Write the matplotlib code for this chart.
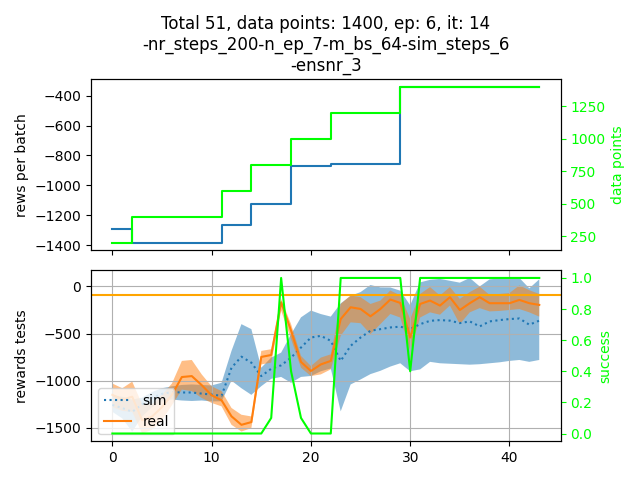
import matplotlib
matplotlib.use("Agg")
import matplotlib.pyplot as plt
import numpy as np

# top panel (per episode)
ep_x = [0, 2, 11, 14, 18, 22, 29, 43]
rews_per_batch = [-1290, -1383, -1266, -1128, -870, -856, -342, -342]
data_points = [200, 400, 600, 800, 1000, 1200, 1400, 1400]

# bottom panel (per iteration)
it_x = list(range(44))
sim_mean = [-1257, -1290, -1330, -1250, -1180, -1140, -1120, -1125, -1125, -1137,
            -1147, -1160, -862, -745, -809, -951, -873, -837, -755, -648,
            -542, -524, -577, -790, -630, -542, -470, -453, -435, -427,
            -453, -400, -365, -357, -363, -389, -371, -424, -371, -357,
            -346, -340, -406, -363]
sim_upper = [-1150, -1170, -1200, -1180, -1120, -1080, -1060, -1045, -1040, -1045,
             -1050, -1022, -684, -400, -453, -862, -755, -702, -506, -328,
             -256, -293, -320, -180, -100, -60, 15, -10, -11, -45,
             -200, 43, 70, 80, 60, 40, 90, 0, 75, 85,
             85, 90, -20, 75]
sim_lower = [-1330, -1400, -1540, -1380, -1280, -1220, -1200, -1210, -1215, -1210,
             -1220, -1218, -1000, -1080, -1150, -1058, -980, -960, -1022, -960,
             -950, -900, -870, -1325, -1040, -987, -930, -895, -850, -815,
             -900, -880, -800, -815, -820, -825, -830, -825, -815, -805,
             -790, -780, -800, -780]
real_mean = [-1150, -1200, -1170, -1420, -1380, -1280, -1150, -961, -951, -1047,
             -1155, -1208, -1378, -1468, -1439, -748, -727, -168, -470, -801,
             -897, -827, -790, -346, -221, -239, -317, -239, -139, -175,
             -542, -186, -150, -203, -114, -250, -178, -114, -178, -178,
             -178, -143, -178, -196]
real_upper = [-1030, -1080, -1010, -1250, -1250, -1150, -1030, -790, -780, -933,
              -1060, -1110, -1289, -1361, -1379, -684, -666, -132, -400, -737,
              -844, -755, -720, -186, -96, -114, -186, -150, -43, -96,
              -346, -80, -7, -96, -7, -132, -60, -3, -90, -80,
              -70, 11, -40, -80]
real_lower = [-1280, -1320, -1330, -1560, -1520, -1420, -1260, -1094, -1111, -1183,
              -1236, -1272, -1468, -1539, -1503, -827, -809, -256, -560, -862,
              -951, -933, -880, -524, -381, -390, -506, -400, -292, -330,
              -684, -330, -275, -300, -203, -400, -275, -230, -265, -260,
              -250, -240, -275, -320]
success = [0, 0, 0, 0, 0, 0, 0, 0, 0, 0,
           0, 0, 0, 0, 0, 0, 0.1, 1.0, 0.4, 0.1,
           0, 0, 0, 1.0, 1.0, 1.0, 1.0, 1.0, 1.0, 1.0,
           0.4, 1.0, 1.0, 1.0, 1.0, 1.0, 1.0, 1.0, 1.0, 1.0,
           1.0, 1.0, 1.0, 1.0]
threshold = -90

title = ("Total 51, data points: 1400, ep: 6, it: 14\n"
         "-nr_steps_200-n_ep_7-m_bs_64-sim_steps_6\n-ensnr_3")

fig, (ax1, ax2) = plt.subplots(2, 1, sharex=True, figsize=(6.4, 4.8), dpi=100)

ax1.plot(ep_x, rews_per_batch, drawstyle='steps-post', color='C0')
ax1.set_ylabel('rews per batch')
ax1.set_title(title)
ax1b = ax1.twinx()
ax1b.plot(ep_x, data_points, drawstyle='steps-post', color='lime')
ax1b.set_ylabel('data points', color='lime')
ax1b.tick_params(axis='y', colors='lime')

ax2.fill_between(it_x, sim_lower, sim_upper, facecolor='C0', alpha=0.5, linewidth=0)
ax2.plot(it_x, sim_mean, ':', color='C0', label='sim')
ax2.fill_between(it_x, real_lower, real_upper, facecolor='C1', alpha=0.5, linewidth=0)
ax2.plot(it_x, real_mean, '-', color='C1', label='real')
ax2.axhline(threshold, color='orange')
ax2.grid(True)
ax2.set_ylabel('rewards tests')
ax2.legend(loc='lower left')
ax2b = ax2.twinx()
ax2b.plot(it_x, success, color='lime')
ax2b.set_ylabel('success', color='lime')
ax2b.tick_params(axis='y', colors='lime')

fig.tight_layout()
fig.savefig('out.png')
